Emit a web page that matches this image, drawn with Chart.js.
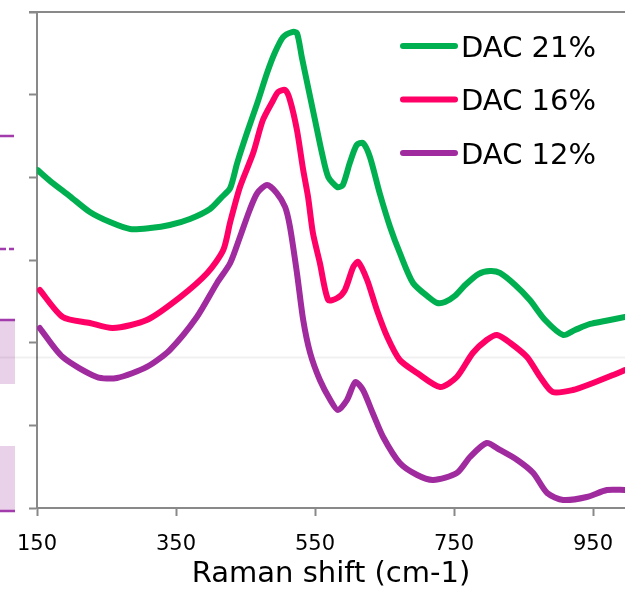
<!DOCTYPE html>
<html>
<head>
<meta charset="utf-8">
<script src="https://cdn.jsdelivr.net/npm/chart.js@4"></script>
<style>
  html, body { margin: 0; padding: 0; background: #fff; }
  #wrap { width: 625px; height: 592px; }
</style>
</head>
<body>
<div id="wrap"><canvas id="myChart"></canvas></div>
<script>
// ***** ข้อมูล (Raman shift, intensity) *****
var seriesNames = ['DAC 21%', 'DAC 16%', 'DAC 12%'];
var seriesColors = ['#00B050', '#FF0066', '#A02B9F'];

var shift21 = [151,169,197,226,255,284,313,341,370,399,416,428,438,452,467,481,492,504,517,524,531,540,550,560,569,582,590,600,610,619,629,643,658,672,691,715,726,737,751,766,785,802,816,838,859,881,907,924,946,967,996];
var dac21 = [4088,3955,3774,3581,3459,3375,3387,3423,3496,3617,3762,3871,4173,4536,4899,5262,5504,5697,5758,5746,5455,5092,4693,4294,4004,3883,3907,4173,4391,4415,4246,3810,3399,3085,2722,2540,2480,2492,2564,2697,2830,2867,2843,2697,2516,2274,2093,2153,2226,2262,2310];

var shift16 = [154,187,226,259,308,356,395,418,428,442,461,475,490,497,507,514,524,533,540,547,557,569,582,593,605,612,625,639,654,672,697,730,754,777,797,812,831,855,874,892,921,950,979,996];
var dac16 = [2637,2310,2238,2177,2274,2552,2843,3121,3459,3883,4294,4693,4935,5032,5056,4935,4572,4088,3762,3326,2964,2516,2540,2637,2915,2976,2758,2395,2068,1790,1633,1464,1585,1875,2032,2093,1996,1826,1585,1403,1427,1512,1609,1669];

var shift12 = [154,187,236,265,308,341,380,409,428,442,456,467,481,495,507,514,524,533,543,557,572,583,596,608,619,633,648,672,697,720,754,773,797,816,841,864,884,907,941,970,996];
var dac12 = [2177,1826,1585,1573,1706,1911,2310,2722,2964,3278,3605,3810,3907,3810,3641,3399,2843,2274,1875,1548,1306,1185,1306,1524,1427,1149,859,544,399,339,423,617,786,702,581,423,181,97,133,218,218];

var xTicks = [150, 350, 550, 750, 950];
var xMin = 150, xMax = 996;
var yMin = 0, yMax = 6000, yStep = 1000;

var FONT = "'DejaVu Sans', sans-serif";
var AXIS = '#898989';

function toPoints(xs, ys) {
    return xs.map(function (x, i) { return { x: x, y: ys[i] }; });
}

// ***** legend วาดเองในกราฟ *****
var legendInside = {
    id: 'legendInside',
    afterDatasetsDraw: function (chart) {
        var ctx = chart.ctx;
        chart.data.datasets.forEach(function (ds, i) {
            var y = 46 + i * 53.5;
            ctx.save();
            ctx.strokeStyle = ds.borderColor;
            ctx.lineWidth = 6;
            ctx.lineCap = 'round';
            ctx.beginPath();
            ctx.moveTo(403, y);
            ctx.lineTo(455, y);
            ctx.stroke();
            ctx.fillStyle = '#000';
            ctx.font = '29px ' + FONT;
            ctx.textBaseline = 'alphabetic';
            ctx.fillText(ds.label, 461, y + 10.5);
            ctx.restore();
        });
    }
};

// ***** เศษของกราฟข้าง ๆ ทางซ้าย + เส้นขอบบน *****
var sideBits = {
    id: 'sideBits',
    beforeDatasetsDraw: function (chart) {
        var ctx = chart.ctx;
        ctx.save();
        ctx.fillStyle = '#E9D1EA';
        ctx.fillRect(0, 319, 15, 65);
        ctx.fillRect(0, 446, 15, 66);
        ctx.strokeStyle = '#A23BAC';
        ctx.lineWidth = 2.5;
        ctx.beginPath();
        ctx.moveTo(0, 136); ctx.lineTo(14, 136);
        ctx.moveTo(0, 249); ctx.lineTo(6, 249);
        ctx.moveTo(9, 249); ctx.lineTo(14, 249);
        ctx.moveTo(0, 320); ctx.lineTo(15, 320);
        ctx.moveTo(0, 511); ctx.lineTo(15, 511);
        ctx.stroke();
        ctx.strokeStyle = 'rgba(0,0,0,0.06)';
        ctx.lineWidth = 2;
        ctx.beginPath();
        ctx.moveTo(0, 357.5); ctx.lineTo(625, 357.5);
        ctx.stroke();
        // เส้นขอบบนของพื้นที่กราฟ
        var yTop = chart.scales.y.getPixelForValue(yMax);
        ctx.strokeStyle = AXIS;
        ctx.lineWidth = 2;
        ctx.beginPath();
        ctx.moveTo(chart.chartArea.left - 8, yTop);
        ctx.lineTo(chart.chartArea.right, yTop);
        ctx.stroke();
        ctx.restore();
    }
};

var ctx = document.getElementById('myChart').getContext('2d');
var chart = new Chart(ctx, {
    type: 'line',
    data: {
        datasets: [
            { label: seriesNames[0], data: toPoints(shift21, dac21), borderColor: seriesColors[0] },
            { label: seriesNames[1], data: toPoints(shift16, dac16), borderColor: seriesColors[1] },
            { label: seriesNames[2], data: toPoints(shift12, dac12), borderColor: seriesColors[2] }
        ]
    },
    options: {
        responsive: true,
        maintainAspectRatio: false,
        animation: false,
        layout: { padding: { top: 12, left: 0, right: 0, bottom: 0 } },
        elements: {
            line: { borderWidth: 6, tension: 0.25, fill: false, borderCapStyle: 'round', borderJoinStyle: 'round' },
            point: { radius: 0, hoverRadius: 0 }
        },
        plugins: {
            legend: { display: false },
            tooltip: { enabled: false }
        },
        scales: {
            x: {
                type: 'linear',
                min: xMin,
                max: xMax,
                afterBuildTicks: function (scale) {
                    scale.ticks = xTicks.map(function (v) { return { value: v }; });
                },
                afterFit: function (scale) {
                    scale.height = 84;
                    scale.paddingLeft = 0;
                    scale.paddingRight = 0;
                },
                border: { color: AXIS, width: 2 },
                grid: { drawOnChartArea: false, tickLength: 8, tickColor: AXIS, tickWidth: 2 },
                ticks: { color: '#000', font: { family: FONT, size: 21 }, padding: 16, maxRotation: 0 },
                title: {
                    display: true,
                    text: 'Raman shift (cm-1)',
                    color: '#000',
                    font: { family: FONT, size: 29 },
                    padding: { top: 0, bottom: 0 }
                }
            },
            y: {
                min: yMin,
                max: yMax,
                ticks: { display: false, stepSize: yStep },
                afterFit: function (scale) { scale.width = 37; },
                border: { color: AXIS, width: 2 },
                grid: {
                    drawOnChartArea: false,
                    tickLength: 8,
                    tickColor: AXIS,
                    tickWidth: 2
                }
            }
        }
    },
    plugins: [sideBits, legendInside]
});
</script>
</body>
</html>
